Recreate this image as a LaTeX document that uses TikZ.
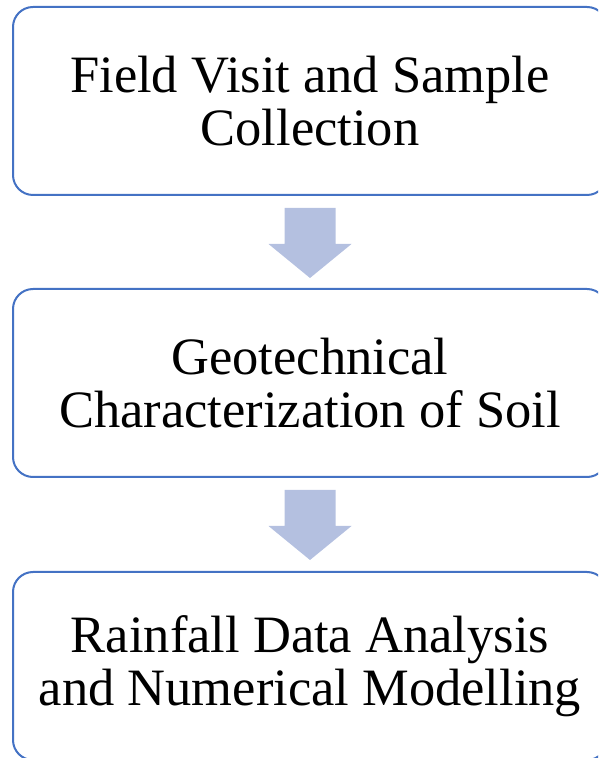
\documentclass[tikz,border=0pt]{standalone}
\usepackage{fontspec}
\setmainfont{Liberation Serif}
\definecolor{boxblue}{HTML}{4472C4}
\definecolor{arrowfill}{HTML}{B4C0E0}
\tikzset{
  stepbox/.style={draw=boxblue, line width=2pt, rounded corners=20pt, fill=white,
    minimum width=594pt, minimum height=188pt, align=center, inner sep=0pt,
    font=\fontsize{52.5}{53}\selectfont},
  downarrow/.style={fill=arrowfill, draw=none}
}
\begin{document}
\begin{tikzpicture}[x=1pt,y=1pt]
\useasboundingbox (0,0) rectangle (598,758);
\clip (0,0) rectangle (598,758);
\node[stepbox] (b1) at (310,657) {Field Visit and Sample\\Collection};
\node[stepbox] (b2) at (310,375) {Geotechnical\\Characterization of Soil};
\node[stepbox] (b3) at (310,92) {Rainfall Data Analysis\\and Numerical Modelling};
\foreach \a in {b1, b2}{
  \fill[downarrow] (\a.south) ++(-25.5,-12) -- ++(51,0) -- ++(0,-36) -- ++(16,0)
     -- ++(-41.5,-34) -- ++(-41.5,34) -- ++(16,0) -- cycle;
}
\end{tikzpicture}
\end{document}
